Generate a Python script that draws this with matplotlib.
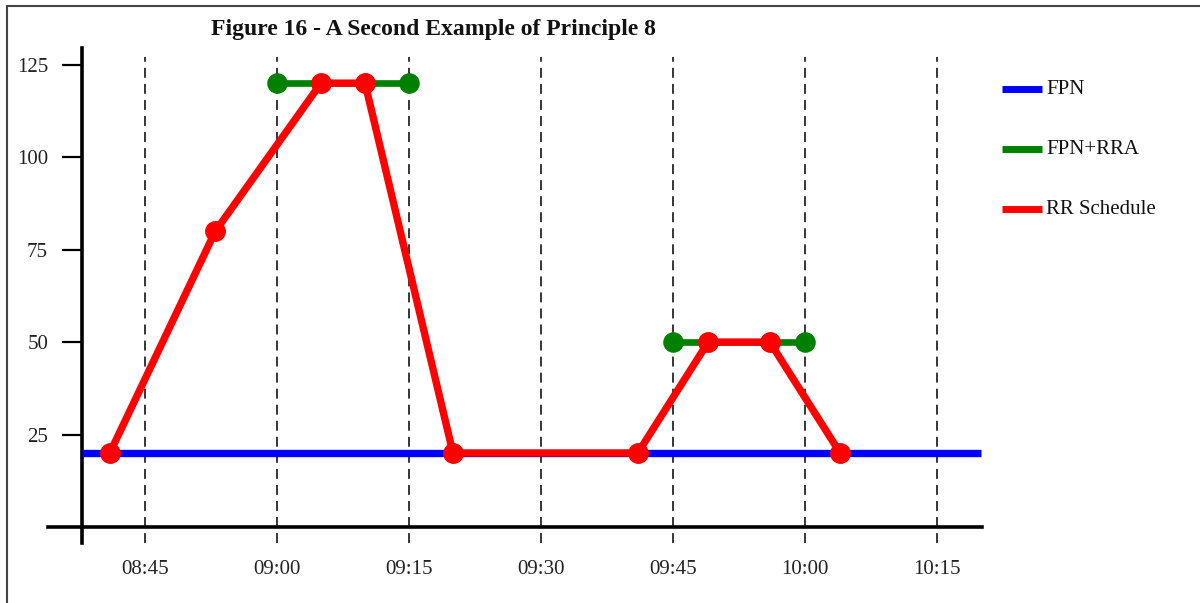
import matplotlib
matplotlib.use('Agg')
import matplotlib.pyplot as plt
from matplotlib.patches import Rectangle

W, H = 1200, 603

# data (times as HH:MM, values in MW)
fpn_times = ["08:37.8", "10:20"]
fpn_values = [20, 20]

rra_times_1 = ["09:00", "09:15"]
rra_values_1 = [120, 120]
rra_times_2 = ["09:45", "10:00"]
rra_values_2 = [50, 50]

rr_times = ["08:41", "08:53", "09:05", "09:10", "09:20", "09:41", "09:49", "09:56", "10:04"]
rr_values = [20, 80, 120, 120, 20, 20, 50, 50, 20]

x_tick_labels = ["08:45", "09:00", "09:15", "09:30", "09:45", "10:00", "10:15"]
y_ticks = [25, 50, 75, 100, 125]


def to_min(t):
    h, m = t.split(":")
    return int(h) * 60 + float(m)


plt.rcParams['font.family'] = ['Liberation Serif', 'DejaVu Serif']

fig = plt.figure(figsize=(W / 100, H / 100), dpi=100)
fig.patches.append(Rectangle((7 / W, -0.1), 1.2, 1 - 6 / H + 0.1, transform=fig.transFigure,
                             fill=False, edgecolor='#444444', linewidth=1.5))

# axes box in pixels: x 82..982, y 48..527
ax = fig.add_axes([82 / W, (H - 527) / H, 900 / W, 479 / H])
x0 = to_min("08:45") - 63 / 8.8
x1 = to_min("08:45") + 837 / 8.8
ax.set_xlim(x0, x1)
ax.set_ylim(0, 129.5)
for s in ax.spines.values():
    s.set_visible(False)

xt = [to_min(t) for t in x_tick_labels]
ext = 16 / 479
for x in xt:
    ax.axvline(x, ymin=-ext, ymax=(527 - 57) / 479, color='black', lw=1.1,
               dashes=(6.5, 4), clip_on=False, zorder=1)

ax.axvline(x0, ymin=-ext, ymax=1, color='black', lw=2.6, clip_on=False, zorder=2)
ax.axhline(0, xmin=-34 / 900, xmax=1, color='black', lw=2.6, clip_on=False, zorder=2)

ax.set_xticks(xt)
ax.set_xticklabels(x_tick_labels)
ax.set_yticks(y_ticks)
ax.tick_params(axis='x', length=0, pad=24, labelsize=15, labelcolor='#222222')
ax.tick_params(axis='y', length=14.4, width=1.6, pad=10, labelsize=15, labelcolor='#222222')

ax.plot([to_min(t) for t in fpn_times], fpn_values, color='#0000ff', lw=5.3,
        solid_capstyle='butt', label='FPN', zorder=3, clip_on=False)
ax.plot([to_min(t) for t in rra_times_1], rra_values_1, color='#008000', lw=4.8,
        marker='o', ms=13.8, label='FPN+RRA', zorder=4)
ax.plot([to_min(t) for t in rra_times_2], rra_values_2, color='#008000', lw=4.8,
        marker='o', ms=13.8, zorder=4)
ax.plot([to_min(t) for t in rr_times], rr_values, color='#ff0000', lw=5.3,
        marker='o', ms=14, label='RR Schedule', zorder=5)

# legend
leg_items = [("FPN", '#0000ff'), ("FPN+RRA", '#008000'), ("RR Schedule", '#ff0000')]
for i, (name, col) in enumerate(leg_items):
    y = 1 - (89 + 60 * i) / H
    fig.lines.append(plt.Line2D([1002 / W, 1042 / W], [y, y], transform=fig.transFigure,
                                color=col, lw=5, solid_capstyle='butt'))
    fig.text(1046 / W, y, name, ha='left', va='center', fontsize=15, color='#111111')

fig.text(433 / W, 1 - 30 / H, "Figure 16 - A Second Example of Principle 8",
         ha='center', va='center', fontsize=17, fontweight='bold', color='#111111')

fig.savefig("out.png", dpi=100)
